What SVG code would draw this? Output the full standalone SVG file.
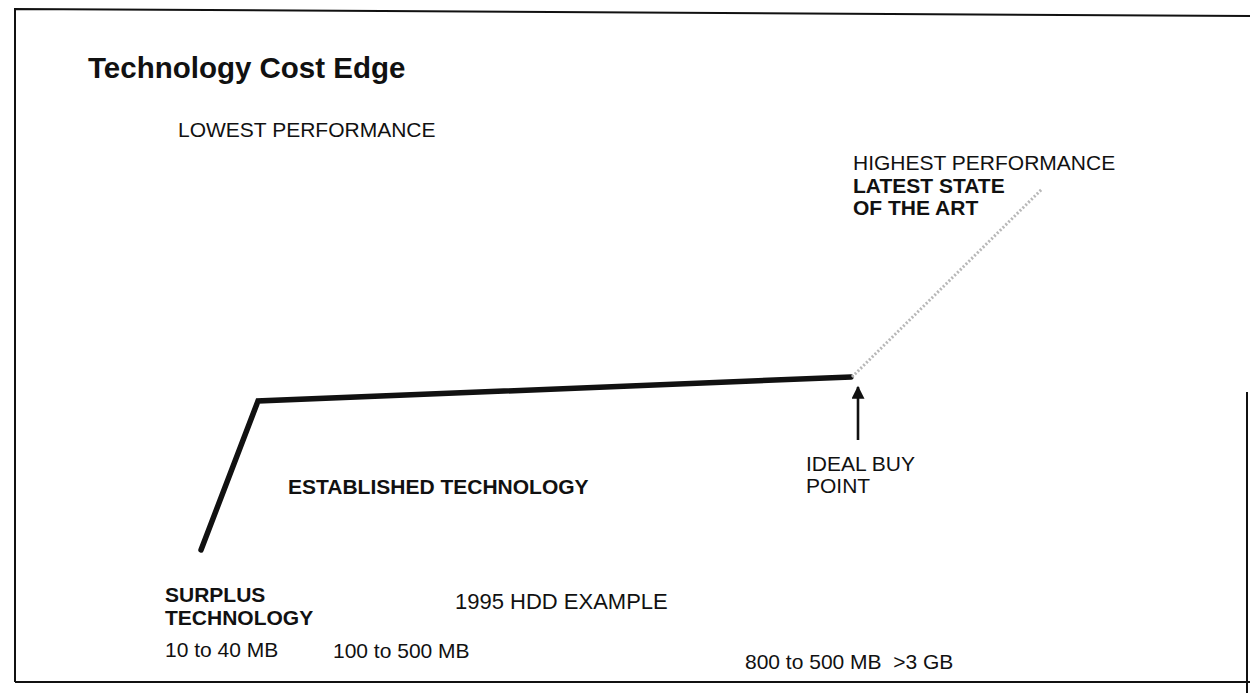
<svg xmlns="http://www.w3.org/2000/svg" width="1250" height="693" viewBox="0 0 1250 693">
<style>
.t{font-family:"Liberation Sans",Arial,Helvetica,sans-serif;fill:#111;font-size:21px}
.b{font-weight:bold}
.title{font-family:"Liberation Sans",Arial,Helvetica,sans-serif;font-weight:bold;font-size:29.5px;fill:#111}
.frame{fill:none;stroke:#111;stroke-width:2}
.curve{fill:none;stroke:#111;stroke-width:5.5;stroke-linecap:round;stroke-linejoin:miter}
.dots{fill:none;stroke:#b8b8b8;stroke-width:3;stroke-dasharray:2 2}
</style>
<defs>
<marker id="ah" viewBox="0 0 10 10" refX="9" refY="5" markerWidth="7" markerHeight="5" markerUnits="strokeWidth" orient="auto">
<path d="M0,0 L10,5 L0,10 z" fill="#111"/>
</marker>
</defs>
<rect width="1250" height="693" fill="#fff"/>
<g id="frame">
<path class="frame" d="M15,682 L15,9 L1250,16"/>
<path class="frame" d="M15,682 L1250,682"/>
<path class="frame" d="M1247,392 L1247,693"/>
</g>
<g id="title"><text class="title" x="88" y="78">Technology Cost Edge</text></g>
<g id="connectors">
<polyline class="curve" points="201,550 258,401 851,377"/>
<line class="dots" x1="852" y1="377" x2="1042" y2="189"/>
<line x1="858" y1="440" x2="858" y2="387" stroke="#111" stroke-width="2.6" marker-end="url(#ah)"/>
</g>
<g id="lowest"><text class="t" x="178" y="137">LOWEST PERFORMANCE</text></g>
<g id="highest">
<text class="t" x="853" y="170">HIGHEST PERFORMANCE</text>
<text class="t b" x="853" y="193">LATEST STATE</text>
<text class="t b" x="853" y="215">OF THE ART</text>
</g>
<g id="established"><text class="t b" x="288" y="494">ESTABLISHED TECHNOLOGY</text></g>
<g id="ideal">
<text class="t" x="806" y="471">IDEAL BUY</text>
<text class="t" x="806" y="493">POINT</text>
</g>
<g id="surplus">
<text class="t b" x="165" y="602">SURPLUS</text>
<text class="t b" x="165" y="625">TECHNOLOGY</text>
</g>
<g id="example"><text class="t" x="455" y="609" style="font-size:22px">1995 HDD EXAMPLE</text></g>
<g id="cap1"><text class="t" x="165" y="657">10 to 40 MB</text></g>
<g id="cap2"><text class="t" x="333" y="658">100 to 500 MB</text></g>
<g id="cap3"><text class="t" x="745" y="669">800 to 500 MB&#160; &gt;3 GB</text></g>
</svg>
